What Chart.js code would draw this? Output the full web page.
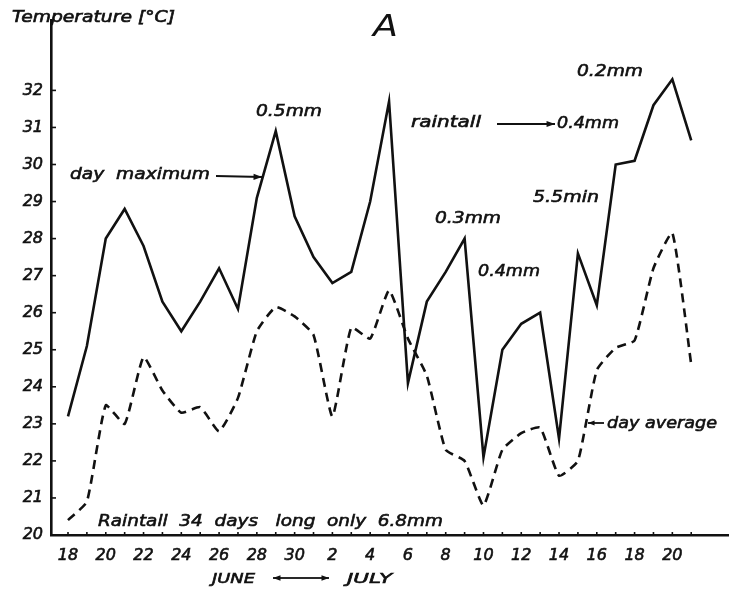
<!DOCTYPE html>
<html><head><meta charset="utf-8">
<script src="https://cdn.jsdelivr.net/npm/chart.js@4/dist/chart.umd.min.js"></script>
<style>html,body{margin:0;padding:0;background:#fff}#wrap{width:729px;height:595px}canvas{display:block}</style>
</head><body>
<div id="wrap"><canvas id="c" width="729" height="595"></canvas></div>
<script>
// Days: June 18 .. June 30, July 1 .. July 21 (index 0..33)
const dayNames = [18,19,20,21,22,23,24,25,26,27,28,29,30,1,2,3,4,5,6,7,8,9,10,11,12,13,14,15,16,17,18,19,20,21];
const dayMaximum = [23.2,25.1,28.0,28.8,27.8,26.3,25.5,26.3,27.2,26.1,29.1,30.9,28.6,
                    27.5,26.8,27.1,29.0,31.7,24.1,26.3,27.1,28.0,22.1,25.0,25.7,26.0,22.6,27.6,26.2,30.0,30.1,31.6,32.3,30.65];
const dayAverage = [20.4,20.9,23.5,23.0,24.8,23.9,23.3,23.45,22.8,23.7,25.5,26.15,25.9,
                    25.4,23.2,25.6,25.3,26.6,25.3,24.3,22.3,22.0,20.8,22.3,22.75,22.9,21.6,22.0,24.45,25.05,25.25,27.2,28.15,24.6];
const xTickIndex = [0,2,4,6,8,10,12,14,16,18,20,22,24,26,28,30,32];
const yTickValues = [20,21,22,23,24,25,26,27,28,29,30,31,32];

const FONT = '"DejaVu Sans", sans-serif';

function fitText(ctx, str, x, y, w, size, stroke) {
  ctx.save();
  ctx.font = `italic normal ${size}px ${FONT}`;
  ctx.textBaseline = 'middle';
  ctx.textAlign = 'left';
  const m = ctx.measureText(str).width;
  ctx.translate(x, y);
  ctx.scale(w / m, 1);
  ctx.fillStyle = '#111';
  ctx.fillText(str, 0, 0);
  if (stroke) {
    ctx.strokeStyle = '#111';
    ctx.lineWidth = stroke;
    ctx.strokeText(str, 0, 0);
  }
  ctx.restore();
}
function arrow(ctx, x1, y1, x2, y2, head) {
  ctx.save();
  ctx.strokeStyle = '#111'; ctx.fillStyle = '#111'; ctx.lineWidth = 1.8;
  ctx.beginPath(); ctx.moveTo(x1, y1); ctx.lineTo(x2, y2); ctx.stroke();
  const a = Math.atan2(y2 - y1, x2 - x1), L = head || 8;
  ctx.beginPath();
  ctx.moveTo(x2, y2);
  ctx.lineTo(x2 - L * Math.cos(a - 0.35), y2 - L * Math.sin(a - 0.35));
  ctx.lineTo(x2 - L * Math.cos(a + 0.35), y2 - L * Math.sin(a + 0.35));
  ctx.closePath(); ctx.fill();
  ctx.restore();
}

const decor = {
  id: 'decor',
  afterDraw(chart) {
    const ctx = chart.ctx;
    const xs = chart.scales.x, ys = chart.scales.y;
    // tick marks (inward)
    ctx.save();
    ctx.strokeStyle = '#111'; ctx.lineWidth = 1.6;
    yTickValues.forEach(v => {
      const py = ys.getPixelForValue(v);
      ctx.beginPath(); ctx.moveTo(xs.left, py); ctx.lineTo(xs.left + 5, py); ctx.stroke();
    });
    dayNames.forEach((d, i) => {
      const px = xs.getPixelForValue(i);
      ctx.beginPath(); ctx.moveTo(px, ys.bottom); ctx.lineTo(px, ys.bottom - 3); ctx.stroke();
    });
    ctx.restore();

    const S = 0.6;
    fitText(ctx, 'Temperature [°C]', 12, 18, 163, 15, S);
    fitText(ctx, 'A', 373, 28, 25, 30);
    fitText(ctx, 'day  maximum', 70, 175, 140, 16, S);
    arrow(ctx, 216, 176, 262, 177, 9);
    fitText(ctx, '0.5mm', 256, 112, 66, 16, S);
    fitText(ctx, 'raintall', 411, 123, 70, 16, S);
    arrow(ctx, 497, 124, 555, 124, 9);
    fitText(ctx, '0.4mm', 557, 124, 62, 16, S);
    fitText(ctx, '0.2mm', 577, 72, 66, 16, S);
    fitText(ctx, '5.5min', 533, 198, 66, 16, S);
    fitText(ctx, '0.3mm', 435, 219, 66, 16, S);
    fitText(ctx, '0.4mm', 478, 272, 62, 16, S);
    arrow(ctx, 604, 423, 588, 423, 7);
    fitText(ctx, 'day average', 607, 424, 110, 16, S);
    fitText(ctx, 'Raintall  34  days   long  only  6.8mm', 98, 522, 345, 16, S);
    fitText(ctx, 'JUNE', 212, 579, 43, 14, S);
    arrow(ctx, 300, 578, 273, 578, 8);
    arrow(ctx, 300, 578, 329, 578, 8);
    fitText(ctx, 'JULY', 347, 579, 45, 14, S);
  }
};

const maxPts = dayMaximum.map((v, i) => ({x: i, y: v}));
const avgPts = dayAverage.map((v, i) => ({x: i, y: v}));

new Chart(document.getElementById('c'), {
  type: 'line',
  data: {
    datasets: [
      {label: 'day maximum', data: maxPts, borderColor: '#111', borderWidth: 2.6, pointRadius: 0, tension: 0, fill: false},
      {label: 'day average', data: avgPts, borderColor: '#111', borderWidth: 2.6, borderDash: [9, 6], pointRadius: 0, tension: 0.15, fill: false}
    ]
  },
  options: {
    responsive: false,
    animation: false,
    devicePixelRatio: 1,
    layout: {padding: {top: 20, left: 0, right: 0, bottom: 0}},
    plugins: {legend: {display: false}, tooltip: {enabled: false}},
    scales: {
      x: {
        type: 'linear', min: -0.9, max: 35,
        afterFit(s) { s.height = 60; },
        afterBuildTicks(s) { s.ticks = xTickIndex.map(v => ({value: v})); },
        grid: {display: false, drawTicks: false},
        border: {display: true, color: '#111', width: 2.6},
        ticks: {
          padding: 11, color: '#111', maxRotation: 0, autoSkip: false,
          textStrokeColor: '#111', textStrokeWidth: 0.6,
          font: {family: FONT, size: 16, style: 'italic'},
          callback: (v) => String(dayNames[v])
        }
      },
      y: {
        type: 'linear', min: 20, max: 33.9,
        afterFit(s) { s.width = 51; },
        afterBuildTicks(s) { s.ticks = yTickValues.map(v => ({value: v})); },
        grid: {display: false, drawTicks: false},
        border: {display: true, color: '#111', width: 2.6},
        ticks: {
          padding: 8, color: '#111', autoSkip: false,
          textStrokeColor: '#111', textStrokeWidth: 0.6,
          font: {family: FONT, size: 16, style: 'italic'},
          callback: (v) => String(v)
        }
      }
    }
  },
  plugins: [decor]
});
</script>
</body></html>
